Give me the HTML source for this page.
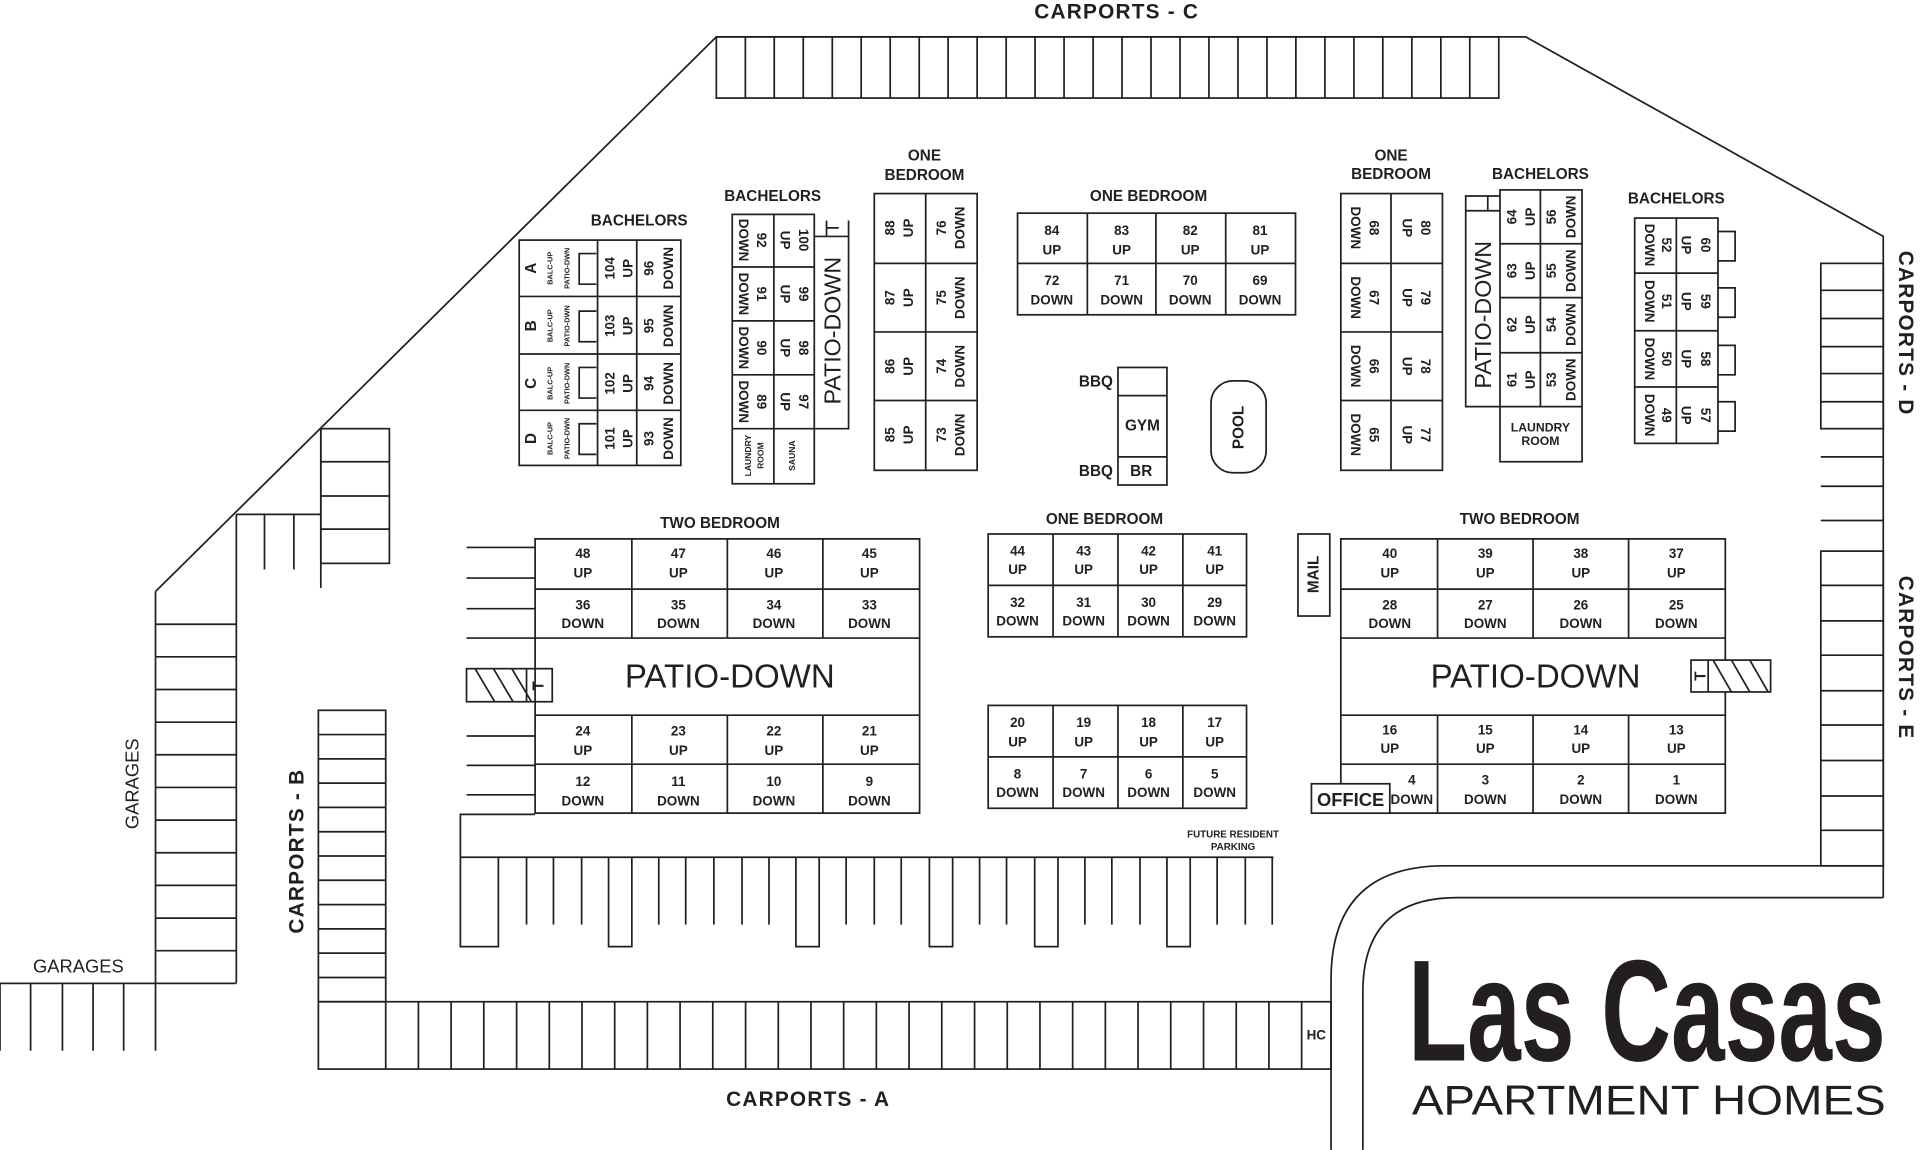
<!DOCTYPE html>
<html><head><meta charset="utf-8"><style>
html,body{margin:0;padding:0;background:#fff;width:1920px;height:1150px;overflow:hidden}
svg{display:block}
text{font-family:"Liberation Sans",sans-serif;font-weight:bold;fill:#231f20}
.s{font-size:11px}.l{font-size:12.5px}.b{font-size:17px;letter-spacing:1px}
.t{font-size:6px}.m{font-size:8px}
</style></head><body>
<svg width="1920" height="1150" viewBox="0 0 1568 939" xmlns="http://www.w3.org/2000/svg">
<g fill="none" stroke="#231f20" stroke-width="1.4">
<!-- boundary -->
<path d="M127 483 L585 30 H1246 L1538 193 V733"/>
<path d="M1538 707 H1180 Q1087 707 1087 800 V939"/>
<path d="M1538 733 H1190 Q1113 733 1113 810 V939"/>
<!-- carports C -->
<rect x="585" y="30" width="639" height="50"/>
<path d="M608.7 30V80M632.3 30V80M656 30V80M679.7 30V80M703.3 30V80M727 30V80M750.7 30V80M774.3 30V80M798 30V80M821.7 30V80M845.3 30V80M869 30V80M892.7 30V80M916.3 30V80M940 30V80M963.7 30V80M987.3 30V80M1011 30V80M1034.7 30V80M1058.3 30V80M1082 30V80M1105.7 30V80M1129.3 30V80M1153 30V80M1176.7 30V80M1200.3 30V80"/>
<!-- carports D/E -->
<rect x="1487" y="215" width="51" height="135"/>
<path d="M1487 237H1538M1487 260H1538M1487 283H1538M1487 305H1538M1487 328H1538M1487 373H1538M1487 397H1538M1487 425H1538"/>
<rect x="1487" y="450" width="51" height="257"/>
<path d="M1487 478H1538M1487 507H1538M1487 535H1538M1487 564H1538M1487 592H1538M1487 621H1538M1487 650H1538M1487 678H1538"/>
<!-- garages left -->
<path d="M127 483 V858 M193 420 V803 M127 803 H193 M0 803 H127 M0 803V858M25 803V858M51 803V858M76 803V858M101 803V858"/>
<path d="M127 509.7H193M127 536.3H193M127 563H193M127 589.7H193M127 616.3H193M127 643H193M127 669.7H193M127 696.3H193M127 723H193M127 749.7H193M127 776.3H193"/>
<path d="M193 420 H262 M216 420V465 M240 420V465 M262 350 V480"/>
<rect x="262" y="350" width="56" height="110"/>
<path d="M262 377H318M262 405H318M262 432H318"/>
<!-- carports B -->
<rect x="260" y="580" width="55" height="238"/>
<path d="M260 599.8H315M260 619.7H315M260 639.5H315M260 659.3H315M260 679.2H315M260 699H315M260 718.8H315M260 738.7H315M260 758.5H315M260 778.3H315M260 798.2H315"/>
<!-- carports A -->
<rect x="260" y="818" width="827" height="55"/>
<path d="M315 818V873M341.7 818V873M368.4 818V873M395.1 818V873M421.9 818V873M448.6 818V873M475.3 818V873M502 818V873M528.7 818V873M555.4 818V873M582.1 818V873M608.9 818V873M635.6 818V873M662.3 818V873M689 818V873M715.7 818V873M742.4 818V873M769.1 818V873M795.9 818V873M822.6 818V873M849.3 818V873M876 818V873M902.7 818V873M929.4 818V873M956.1 818V873M982.9 818V873M1009.6 818V873M1036.3 818V873M1063 818V873"/>
<!-- middle parking -->
<path d="M437 665 H376 V773 H407 V700 M376 700 H1040"/>
<path d="M430 700V755M452 700V755M475 700V755M538 700V755M560 700V755M583 700V755M606 700V755M628 700V755M691 700V755M714 700V755M736 700V755M800 700V755M822 700V755M886 700V755M908 700V755M931 700V755M994 700V755M1017 700V755M1039 700V755"/>
<path d="M497 700V773H516V700M650 700V773H669V700M759 700V773H778V700M845 700V773H864V700M953 700V773H972V700"/>
<!-- bachelors left -->
<rect x="424" y="196" width="132" height="184"/>
<path d="M488 196V380M520 196V380M424 242H556M424 289H556M424 335H556"/>
<path d="M487 207H473V232H487M487 254H473V279H487M487 300H473V325H487M487 346H473V371H487"/>
<!-- bachelors mid -->
<rect x="598" y="175" width="67" height="220"/>
<path d="M632 175V395M598 218H665M598 262H665M598 306H665M598 350H665M665 193H693V350H665M675 180V193M693 180V193M675 186H685"/>
<!-- one bedroom col -->
<rect x="714" y="158" width="84" height="226"/>
<path d="M756 158V384M714 215H798M714 271H798M714 327H798"/>
<!-- one bedroom horiz -->
<rect x="831" y="174" width="227" height="83"/>
<path d="M888 174V257M944 174V257M1001 174V257M831 215H1058"/>
<!-- bbq gym -->
<rect x="913" y="300" width="40" height="96"/>
<path d="M913 323H953M913 373H953"/>
<rect x="989" y="311" width="45" height="75" rx="18"/>
<!-- one bedroom right col -->
<rect x="1095" y="158" width="83" height="226"/>
<path d="M1136 158V384M1095 215H1178M1095 271H1178M1095 327H1178"/>
<!-- bachelors right -->
<rect x="1225" y="155" width="67" height="222"/>
<path d="M1258 155V332M1225 199H1292M1225 243H1292M1225 288H1292M1225 332H1292M1225 160H1197V332H1225M1197 172H1225M1215 160V172"/>
<!-- bachelors far right -->
<rect x="1335" y="178" width="68" height="184"/>
<path d="M1369 178V362M1335 223H1403M1335 270H1403M1335 316H1403"/>
<path d="M1403 189H1417V213H1403M1403 235H1417V259H1403M1403 282H1417V306H1403M1403 328H1417V352H1403"/>
<!-- two bedroom left -->
<path d="M437 440H751V664H437Z M437 481H751M437 521H751M437 584H751M437 624H751M516 440V521M594 440V521M672 440V521M516 584V664M594 584V664M672 584V664"/>
<path d="M381 447H437M381 472H437M381 497H437M381 521H437M381 601H437M381 625H437M381 649H437"/>
<rect x="381" y="546" width="70" height="27"/>
<path d="M388 546L404 573M403 546L419 573M418 546L434 573M430 546V573"/>
<!-- one bedroom mid -->
<rect x="807" y="436" width="211" height="84"/>
<path d="M860 436V520M913 436V520M966 436V520M807 478H1018"/>
<rect x="807" y="576" width="211" height="84"/>
<path d="M860 576V660M913 576V660M966 576V660M807 618H1018"/>
<rect x="1060" y="436" width="26" height="67"/>
<!-- two bedroom right -->
<path d="M1095 440H1409V664H1095Z M1095 481H1409M1095 521H1409M1095 584H1409M1095 624H1409M1174 440V521M1252 440V521M1330 440V521M1174 584V664M1252 584V664M1330 584V664"/>
<rect x="1381" y="539" width="65" height="26" fill="#fff"/>
<path d="M1399 539L1414 565M1414 539L1429 565M1429 539L1444 565M1395 539V565"/>
<rect x="1071" y="640" width="64" height="24" fill="#fff"/>
</g>

<!-- labels -->
<text class="b" x="912" y="15" text-anchor="middle">CARPORTS - C</text>
<text class="b" x="660" y="903" text-anchor="middle">CARPORTS - A</text>
<text class="b" transform="translate(248,695) rotate(-90)" text-anchor="middle">CARPORTS - B</text>
<text class="b" transform="translate(1551,272) rotate(90)" text-anchor="middle">CARPORTS - D</text>
<text class="b" transform="translate(1551,537) rotate(90)" text-anchor="middle">CARPORTS - E</text>
<text class="l" style="font-weight:normal;font-size:15px" x="64" y="794" text-anchor="middle">GARAGES</text>
<text style="font-weight:normal;font-size:15px" transform="translate(113,640) rotate(-90)" text-anchor="middle">GARAGES</text>
<text class="s" x="1075" y="849" text-anchor="middle">HC</text>
<text class="m" x="1007" y="684" text-anchor="middle">FUTURE RESIDENT</text>
<text class="m" x="1007" y="694" text-anchor="middle">PARKING</text>

<text class="l" x="522" y="184" text-anchor="middle">BACHELORS</text>
<text class="l" x="631" y="164" text-anchor="middle">BACHELORS</text>
<text class="l" x="755" y="131" text-anchor="middle">ONE</text>
<text class="l" x="755" y="147" text-anchor="middle">BEDROOM</text>
<text class="l" x="938" y="164" text-anchor="middle">ONE BEDROOM</text>
<text class="l" x="1136" y="131" text-anchor="middle">ONE</text>
<text class="l" x="1136" y="146" text-anchor="middle">BEDROOM</text>
<text class="l" x="1258" y="146" text-anchor="middle">BACHELORS</text>
<text class="l" x="1369" y="166" text-anchor="middle">BACHELORS</text>
<text class="l" x="588" y="431" text-anchor="middle">TWO BEDROOM</text>
<text class="l" x="902" y="428" text-anchor="middle">ONE BEDROOM</text>
<text class="l" x="1241" y="428" text-anchor="middle">TWO BEDROOM</text>

<!-- bachelors left rotated -90 -->
<g text-anchor="middle" dominant-baseline="central">
<text class="l" transform="translate(434,219) rotate(-90)">A</text><text class="t" transform="translate(449,219) rotate(-90)">BALC-UP</text><text class="t" transform="translate(463,219) rotate(-90)">PATIO-DWN</text>
<text class="s" transform="translate(498,219) rotate(-90)">104</text><text class="s" transform="translate(513,219) rotate(-90)">UP</text><text class="s" transform="translate(530,219) rotate(-90)">96</text><text class="s" transform="translate(546,219) rotate(-90)">DOWN</text>
<text class="l" transform="translate(434,266) rotate(-90)">B</text><text class="t" transform="translate(449,266) rotate(-90)">BALC-UP</text><text class="t" transform="translate(463,266) rotate(-90)">PATIO-DWN</text>
<text class="s" transform="translate(498,266) rotate(-90)">103</text><text class="s" transform="translate(513,266) rotate(-90)">UP</text><text class="s" transform="translate(530,266) rotate(-90)">95</text><text class="s" transform="translate(546,266) rotate(-90)">DOWN</text>
<text class="l" transform="translate(434,313) rotate(-90)">C</text><text class="t" transform="translate(449,313) rotate(-90)">BALC-UP</text><text class="t" transform="translate(463,313) rotate(-90)">PATIO-DWN</text>
<text class="s" transform="translate(498,313) rotate(-90)">102</text><text class="s" transform="translate(513,313) rotate(-90)">UP</text><text class="s" transform="translate(530,313) rotate(-90)">94</text><text class="s" transform="translate(546,313) rotate(-90)">DOWN</text>
<text class="l" transform="translate(434,358) rotate(-90)">D</text><text class="t" transform="translate(449,358) rotate(-90)">BALC-UP</text><text class="t" transform="translate(463,358) rotate(-90)">PATIO-DWN</text>
<text class="s" transform="translate(498,358) rotate(-90)">101</text><text class="s" transform="translate(513,358) rotate(-90)">UP</text><text class="s" transform="translate(530,358) rotate(-90)">93</text><text class="s" transform="translate(546,358) rotate(-90)">DOWN</text>

<!-- bachelors mid rotated 90 -->
<text class="s" transform="translate(607,196) rotate(90)">DOWN</text><text class="s" transform="translate(622,196) rotate(90)">92</text><text class="s" transform="translate(641,196) rotate(90)">UP</text><text class="s" transform="translate(656,196) rotate(90)">100</text>
<text class="s" transform="translate(607,240) rotate(90)">DOWN</text><text class="s" transform="translate(622,240) rotate(90)">91</text><text class="s" transform="translate(641,240) rotate(90)">UP</text><text class="s" transform="translate(656,240) rotate(90)">99</text>
<text class="s" transform="translate(607,284) rotate(90)">DOWN</text><text class="s" transform="translate(622,284) rotate(90)">90</text><text class="s" transform="translate(641,284) rotate(90)">UP</text><text class="s" transform="translate(656,284) rotate(90)">98</text>
<text class="s" transform="translate(607,328) rotate(90)">DOWN</text><text class="s" transform="translate(622,328) rotate(90)">89</text><text class="s" transform="translate(641,328) rotate(90)">UP</text><text class="s" transform="translate(656,328) rotate(90)">97</text>
<text class="t" style="font-size:7px" transform="translate(611,372) rotate(-90)">LAUNDRY</text><text class="t" style="font-size:7px" transform="translate(621,372) rotate(-90)">ROOM</text>
<text class="t" style="font-size:7px" transform="translate(647,372) rotate(-90)">SAUNA</text>
<text style="font-weight:normal;font-size:19px" transform="translate(680,270) rotate(-90)">PATIO-DOWN</text>

<!-- one bedroom col -->
<text class="s" transform="translate(727,186) rotate(-90)">88</text><text class="s" transform="translate(742,186) rotate(-90)">UP</text><text class="s" transform="translate(769,186) rotate(-90)">76</text><text class="s" transform="translate(784,186) rotate(-90)">DOWN</text>
<text class="s" transform="translate(727,243) rotate(-90)">87</text><text class="s" transform="translate(742,243) rotate(-90)">UP</text><text class="s" transform="translate(769,243) rotate(-90)">75</text><text class="s" transform="translate(784,243) rotate(-90)">DOWN</text>
<text class="s" transform="translate(727,299) rotate(-90)">86</text><text class="s" transform="translate(742,299) rotate(-90)">UP</text><text class="s" transform="translate(769,299) rotate(-90)">74</text><text class="s" transform="translate(784,299) rotate(-90)">DOWN</text>
<text class="s" transform="translate(727,355) rotate(-90)">85</text><text class="s" transform="translate(742,355) rotate(-90)">UP</text><text class="s" transform="translate(769,355) rotate(-90)">73</text><text class="s" transform="translate(784,355) rotate(-90)">DOWN</text>

<!-- one bedroom right col rotated 90 -->
<text class="s" transform="translate(1107,186) rotate(90)">DOWN</text><text class="s" transform="translate(1122,186) rotate(90)">68</text><text class="s" transform="translate(1149,186) rotate(90)">UP</text><text class="s" transform="translate(1164,186) rotate(90)">80</text>
<text class="s" transform="translate(1107,243) rotate(90)">DOWN</text><text class="s" transform="translate(1122,243) rotate(90)">67</text><text class="s" transform="translate(1149,243) rotate(90)">UP</text><text class="s" transform="translate(1164,243) rotate(90)">79</text>
<text class="s" transform="translate(1107,299) rotate(90)">DOWN</text><text class="s" transform="translate(1122,299) rotate(90)">66</text><text class="s" transform="translate(1149,299) rotate(90)">UP</text><text class="s" transform="translate(1164,299) rotate(90)">78</text>
<text class="s" transform="translate(1107,355) rotate(90)">DOWN</text><text class="s" transform="translate(1122,355) rotate(90)">65</text><text class="s" transform="translate(1149,355) rotate(90)">UP</text><text class="s" transform="translate(1164,355) rotate(90)">77</text>

<!-- bachelors right -->
<text class="s" transform="translate(1235,177) rotate(-90)">64</text><text class="s" transform="translate(1250,177) rotate(-90)">UP</text><text class="s" transform="translate(1267,177) rotate(-90)">56</text><text class="s" transform="translate(1283,177) rotate(-90)">DOWN</text>
<text class="s" transform="translate(1235,221) rotate(-90)">63</text><text class="s" transform="translate(1250,221) rotate(-90)">UP</text><text class="s" transform="translate(1267,221) rotate(-90)">55</text><text class="s" transform="translate(1283,221) rotate(-90)">DOWN</text>
<text class="s" transform="translate(1235,265) rotate(-90)">62</text><text class="s" transform="translate(1250,265) rotate(-90)">UP</text><text class="s" transform="translate(1267,265) rotate(-90)">54</text><text class="s" transform="translate(1283,265) rotate(-90)">DOWN</text>
<text class="s" transform="translate(1235,310) rotate(-90)">61</text><text class="s" transform="translate(1250,310) rotate(-90)">UP</text><text class="s" transform="translate(1267,310) rotate(-90)">53</text><text class="s" transform="translate(1283,310) rotate(-90)">DOWN</text>
<text style="font-weight:normal;font-size:19px" transform="translate(1211,257) rotate(-90)">PATIO-DOWN</text>
<text class="s" style="font-size:10px" x="1258" y="349">LAUNDRY</text><text class="s" style="font-size:10px" x="1258" y="360">ROOM</text>

<!-- bachelors far right rotated 90 -->
<text class="s" transform="translate(1347,200) rotate(90)">DOWN</text><text class="s" transform="translate(1361,200) rotate(90)">52</text><text class="s" transform="translate(1377,200) rotate(90)">UP</text><text class="s" transform="translate(1393,200) rotate(90)">60</text>
<text class="s" transform="translate(1347,246) rotate(90)">DOWN</text><text class="s" transform="translate(1361,246) rotate(90)">51</text><text class="s" transform="translate(1377,246) rotate(90)">UP</text><text class="s" transform="translate(1393,246) rotate(90)">59</text>
<text class="s" transform="translate(1347,293) rotate(90)">DOWN</text><text class="s" transform="translate(1361,293) rotate(90)">50</text><text class="s" transform="translate(1377,293) rotate(90)">UP</text><text class="s" transform="translate(1393,293) rotate(90)">58</text>
<text class="s" transform="translate(1347,339) rotate(90)">DOWN</text><text class="s" transform="translate(1361,339) rotate(90)">49</text><text class="s" transform="translate(1377,339) rotate(90)">UP</text><text class="s" transform="translate(1393,339) rotate(90)">57</text>

<!-- one bedroom horiz -->
<text class="s" x="859" y="188">84</text><text class="s" x="859" y="204">UP</text><text class="s" x="916" y="188">83</text><text class="s" x="916" y="204">UP</text><text class="s" x="972" y="188">82</text><text class="s" x="972" y="204">UP</text><text class="s" x="1029" y="188">81</text><text class="s" x="1029" y="204">UP</text>
<text class="s" x="859" y="229">72</text><text class="s" x="859" y="245">DOWN</text><text class="s" x="916" y="229">71</text><text class="s" x="916" y="245">DOWN</text><text class="s" x="972" y="229">70</text><text class="s" x="972" y="245">DOWN</text><text class="s" x="1029" y="229">69</text><text class="s" x="1029" y="245">DOWN</text>

<text class="l" x="895" y="312">BBQ</text><text class="l" x="895" y="385">BBQ</text>
<text class="l" x="933" y="348">GYM</text><text class="l" x="932" y="385">BR</text>
<text class="l" transform="translate(1012,349) rotate(-90)">POOL</text>
<text class="l" transform="translate(1073,469) rotate(-90)">MAIL</text>

<!-- two bedroom left -->
<text class="s" x="476" y="452">48</text><text class="s" x="476" y="468">UP</text><text class="s" x="554" y="452">47</text><text class="s" x="554" y="468">UP</text><text class="s" x="632" y="452">46</text><text class="s" x="632" y="468">UP</text><text class="s" x="710" y="452">45</text><text class="s" x="710" y="468">UP</text>
<text class="s" x="476" y="494">36</text><text class="s" x="476" y="509">DOWN</text><text class="s" x="554" y="494">35</text><text class="s" x="554" y="509">DOWN</text><text class="s" x="632" y="494">34</text><text class="s" x="632" y="509">DOWN</text><text class="s" x="710" y="494">33</text><text class="s" x="710" y="509">DOWN</text>
<text class="s" x="476" y="597">24</text><text class="s" x="476" y="613">UP</text><text class="s" x="554" y="597">23</text><text class="s" x="554" y="613">UP</text><text class="s" x="632" y="597">22</text><text class="s" x="632" y="613">UP</text><text class="s" x="710" y="597">21</text><text class="s" x="710" y="613">UP</text>
<text class="s" x="476" y="638">12</text><text class="s" x="476" y="654">DOWN</text><text class="s" x="554" y="638">11</text><text class="s" x="554" y="654">DOWN</text><text class="s" x="632" y="638">10</text><text class="s" x="632" y="654">DOWN</text><text class="s" x="710" y="638">9</text><text class="s" x="710" y="654">DOWN</text>
<text style="font-weight:normal;font-size:27px" x="596" y="553">PATIO-DOWN</text>
<text class="l" transform="translate(440,560) rotate(-90)">T</text>

<!-- one bedroom mid -->
<text class="s" x="831" y="450">44</text><text class="s" x="831" y="465">UP</text><text class="s" x="885" y="450">43</text><text class="s" x="885" y="465">UP</text><text class="s" x="938" y="450">42</text><text class="s" x="938" y="465">UP</text><text class="s" x="992" y="450">41</text><text class="s" x="992" y="465">UP</text>
<text class="s" x="831" y="492">32</text><text class="s" x="831" y="507">DOWN</text><text class="s" x="885" y="492">31</text><text class="s" x="885" y="507">DOWN</text><text class="s" x="938" y="492">30</text><text class="s" x="938" y="507">DOWN</text><text class="s" x="992" y="492">29</text><text class="s" x="992" y="507">DOWN</text>
<text class="s" x="831" y="590">20</text><text class="s" x="831" y="606">UP</text><text class="s" x="885" y="590">19</text><text class="s" x="885" y="606">UP</text><text class="s" x="938" y="590">18</text><text class="s" x="938" y="606">UP</text><text class="s" x="992" y="590">17</text><text class="s" x="992" y="606">UP</text>
<text class="s" x="831" y="632">8</text><text class="s" x="831" y="647">DOWN</text><text class="s" x="885" y="632">7</text><text class="s" x="885" y="647">DOWN</text><text class="s" x="938" y="632">6</text><text class="s" x="938" y="647">DOWN</text><text class="s" x="992" y="632">5</text><text class="s" x="992" y="647">DOWN</text>

<!-- two bedroom right -->
<text class="s" x="1135" y="452">40</text><text class="s" x="1135" y="468">UP</text><text class="s" x="1213" y="452">39</text><text class="s" x="1213" y="468">UP</text><text class="s" x="1291" y="452">38</text><text class="s" x="1291" y="468">UP</text><text class="s" x="1369" y="452">37</text><text class="s" x="1369" y="468">UP</text>
<text class="s" x="1135" y="494">28</text><text class="s" x="1135" y="509">DOWN</text><text class="s" x="1213" y="494">27</text><text class="s" x="1213" y="509">DOWN</text><text class="s" x="1291" y="494">26</text><text class="s" x="1291" y="509">DOWN</text><text class="s" x="1369" y="494">25</text><text class="s" x="1369" y="509">DOWN</text>
<text class="s" x="1135" y="596">16</text><text class="s" x="1135" y="611">UP</text><text class="s" x="1213" y="596">15</text><text class="s" x="1213" y="611">UP</text><text class="s" x="1291" y="596">14</text><text class="s" x="1291" y="611">UP</text><text class="s" x="1369" y="596">13</text><text class="s" x="1369" y="611">UP</text>
<text class="s" x="1153" y="637">4</text><text class="s" x="1153" y="653">DOWN</text><text class="s" x="1213" y="637">3</text><text class="s" x="1213" y="653">DOWN</text><text class="s" x="1291" y="637">2</text><text class="s" x="1291" y="653">DOWN</text><text class="s" x="1369" y="637">1</text><text class="s" x="1369" y="653">DOWN</text>
<text style="font-weight:normal;font-size:27px" x="1254" y="553">PATIO-DOWN</text>
<text class="l" transform="translate(1389,552) rotate(-90)">T</text>
<text style="font-size:15px" x="1103" y="653">OFFICE</text>
</g>

<!-- logo -->
<text x="1150" y="866" textLength="390" lengthAdjust="spacingAndGlyphs" style="font-family:'Liberation Sans Narrow','Liberation Sans',sans-serif;font-size:118px;font-weight:bold">Las Casas</text>
<text x="1153" y="910" textLength="387" lengthAdjust="spacingAndGlyphs" style="font-weight:normal;font-size:34px">APARTMENT HOMES</text>
</svg>
</body></html>
